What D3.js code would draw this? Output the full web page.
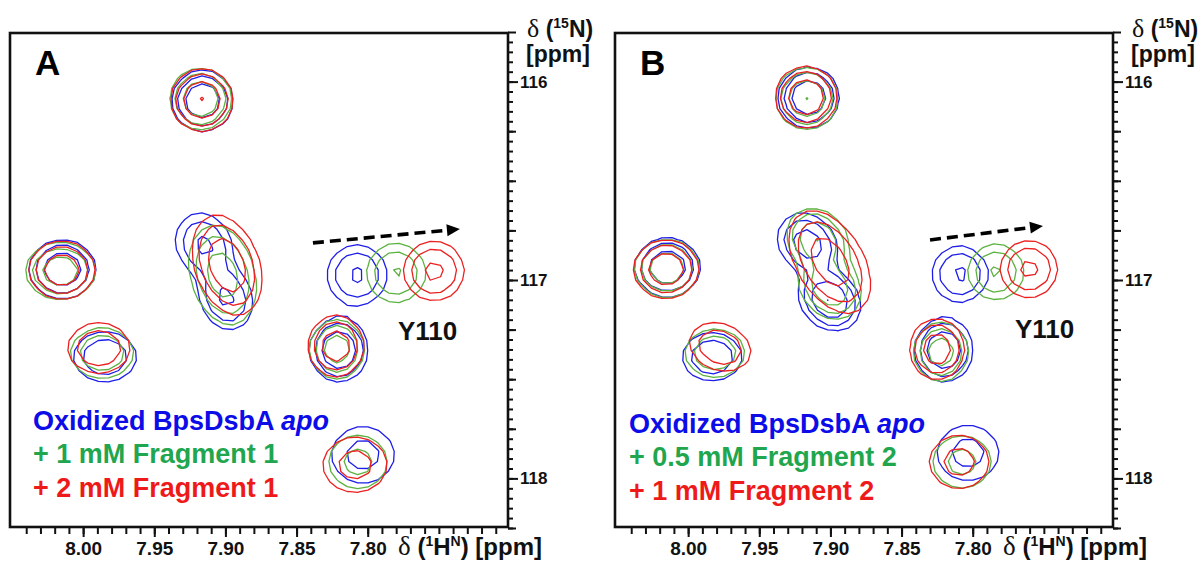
<!DOCTYPE html>
<html><head><meta charset="utf-8">
<script src="https://cdn.jsdelivr.net/npm/d3@7"></script>
<style>body{margin:0;background:#fff}svg{display:block}</style>
</head><body>
<svg id="chart" width="1203" height="566"></svg>
<script>
// ---------------- DATA ----------------
// Peak lists: [1H ppm, 15N ppm, width 1H (ppm), width 15N (ppm), relative intensity, tilt]
const A_blue = [
  [7.9160, 116.097, 0.0105, 0.0756, 7.5, 0],
  [8.0145, 116.945, 0.0114, 0.0727, 7.5, 0],
  [7.9150, 116.824, 0.0112, 0.0907, 4.6, 0.15],
  [7.8995, 117.091, 0.0105, 0.0907, 4.6, 0.15],
  [7.8075, 116.975, 0.0120, 0.0857, 4.5, 0],
  [7.9846, 117.388, 0.0132, 0.0757, 3.9, 0],
  [7.8202, 117.353, 0.0098, 0.0781, 8.1, 0],
  [7.8033, 117.882, 0.0158, 0.1025, 2.6, 0]
];
const A_green = [
  [7.9175, 116.088, 0.0105, 0.0756, 7.8, 0],
  [8.0160, 116.955, 0.0125, 0.0727, 6.5, 0],
  [7.9020, 116.975, 0.0125, 0.1330, 5.8, 0.25],
  [7.7801, 116.965, 0.0120, 0.0857, 4.3, 0],
  [7.9867, 117.368, 0.0132, 0.0757, 3.9, 0],
  [7.8216, 117.348, 0.0098, 0.0781, 6.0, 0],
  [7.8068, 117.917, 0.0150, 0.0980, 2.5, 0]
];
const A_red = [
  [7.9165, 116.093, 0.0105, 0.0756, 8.3, 0],
  [8.0149, 116.950, 0.0114, 0.0727, 7.0, 0],
  [7.8989, 116.925, 0.0122, 0.1270, 7.0, 0.3],
  [7.7534, 116.955, 0.0118, 0.0840, 4.75, 0],
  [7.9889, 117.343, 0.0132, 0.0757, 3.9, 0],
  [7.8223, 117.333, 0.0098, 0.0781, 6.5, 0],
  [7.8089, 117.932, 0.0162, 0.1000, 2.6, 0]
];
const B_blue = [
  [7.9151, 116.080, 0.0105, 0.0756, 7.5, 0],
  [8.0145, 116.935, 0.0112, 0.0730, 7.5, 0],
  [7.9160, 116.818, 0.0110, 0.0806, 6.0, 0.2],
  [7.9005, 117.101, 0.0105, 0.0756, 8.1, 0.2],
  [7.8089, 116.970, 0.0112, 0.0800, 4.5, 0],
  [7.9832, 117.388, 0.0125, 0.0720, 3.95, 0],
  [7.8202, 117.353, 0.0098, 0.0781, 8.1, 0],
  [7.8033, 117.872, 0.0155, 0.1000, 2.6, 0]
];
const B_green = [
  [7.9165, 116.085, 0.0105, 0.0756, 8.15, 0],
  [8.0149, 116.940, 0.0112, 0.0730, 7.0, 0],
  [7.9087, 116.800, 0.0105, 0.0780, 8.1, 0.2],
  [7.9003, 117.035, 0.0105, 0.0780, 8.1, 0.2],
  [7.7836, 116.960, 0.0112, 0.0800, 4.4, 0],
  [7.9811, 117.368, 0.0125, 0.0720, 3.95, 0],
  [7.8223, 117.363, 0.0098, 0.0781, 6.0, 0],
  [7.8075, 117.917, 0.0150, 0.0960, 2.5, 0]
];
const B_red = [
  [7.9172, 116.078, 0.0105, 0.0756, 7.8, 0],
  [8.0155, 116.945, 0.0112, 0.0730, 7.2, 0],
  [7.9003, 116.909, 0.0150, 0.1360, 6.0, 0.45],
  [7.7604, 116.945, 0.0112, 0.0800, 4.75, 0],
  [7.9776, 117.338, 0.0128, 0.0730, 3.95, 0.2],
  [7.8251, 117.348, 0.0098, 0.0781, 6.5, 0],
  [7.8096, 117.917, 0.0150, 0.0960, 2.6, 0]
];
const contourLevels = [1, 2, 4, 8];

const hDomain = [8.0514, 7.7014];
const nDomain = [115.755, 118.245];
const hLabelTicks = [8.00, 7.95, 7.90, 7.85, 7.80];
const hLabelText = ["8.00", "7.95", "7.90", "7.85", "7.80"];
const hMinorTicks = [8.04,8.03,8.02,8.01,8.00,7.99,7.98,7.97,7.96,7.95,7.94,7.93,7.92,7.91,7.90,7.89,7.88,7.87,7.86,7.85,7.84,7.83,7.82,7.81,7.80,7.79,7.78,7.77,7.76,7.75,7.74,7.73,7.72,7.71];
const nLabelTicks = [116, 117, 118];
const nLabelText = ["116", "117", "118"];
const nMidTicks = [115.75, 116.25, 116.5, 116.75, 117.25, 117.5, 117.75, 118.25];
const nMinorStep = 0.05;

const panelLetters = ["A", "B"];
const legendA = ["Oxidized BpsDsbA ", "+ 1 mM Fragment 1", "+ 2 mM Fragment 1"];
const legendB = ["Oxidized BpsDsbA ", "+ 0.5 mM Fragment 2", "+ 1 mM Fragment 2"];
const legendItalic = "apo";
const residueLabel = "Y110";
// arrow start/end [1H, 15N]
const arrowA = [[7.8385, 116.813], [7.7352, 116.743]];
const arrowB = [[7.8300, 116.798], [7.7506, 116.728]];
const labelPosA = [7.7787, 117.302];
const labelPosB = [7.7703, 117.292];

// ---------------- LAYOUT ----------------
const FONT = "'Liberation Sans', Arial, Helvetica, sans-serif";
const SERIF = "'Liberation Serif', 'Times New Roman', serif";
const PW = 498, PH = 494;
const colors = {blue: "#1e1ee8", green: "#5cb241", red: "#ec2020"};
const textColors = {blue: "#0c0ce8", green: "#1fa64e", red: "#ee1a1a"};

const panels = [
  {letter: panelLetters[0], left: 10, top: 33, series: [["blue", A_blue], ["green", A_green], ["red", A_red]],
   legend: legendA, legendX: 23, legendY: [397, 430, 464], arrow: arrowA, lab: labelPosA},
  {letter: panelLetters[1], left: 615, top: 33, series: [["blue", B_blue], ["green", B_green], ["red", B_red]],
   legend: legendB, legendX: 14, legendY: [400, 433, 467], arrow: arrowB, lab: labelPosB}
];

const svg = d3.select("#chart");
const x = d3.scaleLinear().domain(hDomain).range([0, PW]);
const y = d3.scaleLinear().domain(nDomain).range([0, PH]);

const NX = 48, NY = 49;
const gx = d3.scaleLinear().domain([0, NX]).range(hDomain);
const gy = d3.scaleLinear().domain([0, NY]).range(nDomain);

function spectrum(peaks) {
  const v = new Float64Array(NX * NY);
  for (let j = 0; j < NY; j++) {
    const yp = gy(j + 0.5);
    for (let i = 0; i < NX; i++) {
      const xp = gx(i + 0.5);
      let s = 0;
      for (const [h, n, sh, sn, a, r] of peaks) {
        const u = (h - xp) / sh, w = (yp - n) / sn;
        const q = (u * u - 2 * r * u * w + w * w) / (2 * (1 - r * r));
        if (q < 40) s += a * Math.exp(-q);
      }
      v[j * NX + i] = s;
    }
  }
  return v;
}

const proj = d3.geoTransform({
  point: function(px, py) { this.stream.point(x(gx(px)), y(gy(py))); }
});
const path = d3.geoPath(proj);

const nMinorTicks = d3.range(Math.round((nDomain[1] - 115.8) / nMinorStep) + 1).map(i => +(115.8 + i * nMinorStep).toFixed(2));

panels.forEach((p, pi) => {
  const g = svg.append("g").attr("transform", `translate(${p.left},${p.top})`);
  const clipId = "clip" + pi;
  g.append("clipPath").attr("id", clipId).append("rect").attr("width", PW).attr("height", PH);

  const cg = g.append("g").attr("clip-path", `url(#${clipId})`);
  p.series.forEach(([col, peaks]) => {
    const vals = spectrum(peaks);
    const cs = d3.contours().size([NX, NY]).thresholds(contourLevels)(vals);
    cg.append("g").selectAll("path").data(cs).join("path")
      .attr("d", path)
      .attr("fill", "none")
      .attr("stroke", colors[col])
      .attr("stroke-width", 1.3)
      .attr("stroke-linejoin", "round");
  });

  // frame
  g.append("rect").attr("width", PW).attr("height", PH)
    .attr("fill", "none").attr("stroke", "#111").attr("stroke-width", 2.6);

  // right axis
  const ra = g.append("g").attr("transform", `translate(${PW},0)`);
  ra.append("g").call(d3.axisRight(y).tickValues(nMinorTicks).tickSize(5).tickFormat(""));
  ra.append("g").call(d3.axisRight(y).tickValues(nMidTicks).tickSize(8).tickFormat(""));
  ra.append("g").call(d3.axisRight(y).tickValues(nLabelTicks).tickSize(10).tickPadding(2)
      .tickFormat((d, i) => nLabelText[i]));
  ra.selectAll(".domain").remove();
  ra.selectAll("line").attr("stroke", "#111").attr("stroke-width", 2);
  ra.selectAll("text").attr("font-family", FONT).attr("font-weight", "bold")
    .attr("font-size", 17).attr("fill", "#111");

  // bottom axis
  const ba = g.append("g").attr("transform", `translate(0,${PH})`);
  ba.append("g").call(d3.axisBottom(x).tickValues(hMinorTicks).tickSize(7).tickFormat(""));
  ba.append("g").call(d3.axisBottom(x).tickValues(hLabelTicks).tickSize(10).tickPadding(5)
      .tickFormat((d, i) => hLabelText[i]));
  ba.selectAll(".domain").remove();
  ba.selectAll("line").attr("stroke", "#111").attr("stroke-width", 2);
  ba.selectAll("text").attr("font-family", FONT).attr("font-weight", "bold")
    .attr("font-size", 19).attr("fill", "#111");

  // panel letter
  g.append("text").attr("x", 25).attr("y", 42).text(p.letter)
    .attr("font-family", FONT).attr("font-weight", "bold").attr("font-size", 35).attr("fill", "#000");

  // residue label
  g.append("text").attr("x", x(p.lab[0])).attr("y", y(p.lab[1])).text(residueLabel)
    .attr("font-family", FONT).attr("font-weight", "bold").attr("font-size", 26).attr("fill", "#111");

  // arrow
  const x1 = x(p.arrow[0][0]), y1 = y(p.arrow[0][1]), x2 = x(p.arrow[1][0]), y2 = y(p.arrow[1][1]);
  const ang = Math.atan2(y2 - y1, x2 - x1), hl = 13, hw = 6;
  const bx = x2 - hl * Math.cos(ang), by = y2 - hl * Math.sin(ang);
  g.append("line").attr("x1", x1).attr("y1", y1).attr("x2", bx).attr("y2", by)
    .attr("stroke", "#000").attr("stroke-width", 3.6).attr("stroke-dasharray", "11,6");
  g.append("path").attr("d", `M${x2},${y2}L${bx + hw * Math.sin(ang)},${by - hw * Math.cos(ang)}L${bx - hw * Math.sin(ang)},${by + hw * Math.cos(ang)}Z`)
    .attr("fill", "#000");

  // legend
  const cols = ["blue", "green", "red"];
  p.legend.forEach((t, i) => {
    const tx = g.append("text").attr("x", p.legendX).attr("y", p.legendY[i])
      .attr("font-family", FONT).attr("font-weight", "bold").attr("font-size", 27)
      .attr("fill", textColors[cols[i]]);
    tx.append("tspan").text(t);
    if (i === 0) tx.append("tspan").attr("font-style", "italic").text(legendItalic);
  });

  // axis titles
  const yt = g.append("text").attr("x", PW + 19).attr("y", 4)
    .attr("font-family", FONT).attr("font-weight", "bold").attr("font-size", 23).attr("fill", "#111");
  yt.append("tspan").attr("font-family", SERIF).attr("font-weight", "normal").attr("font-size", 26).text("δ");
  yt.append("tspan").text(" (");
  yt.append("tspan").attr("font-size", 14).attr("dy", -9).text("15");
  yt.append("tspan").attr("dy", 9).text("N)");
  g.append("text").attr("x", PW + 18).attr("y", 29).text("[ppm]")
    .attr("font-family", FONT).attr("font-weight", "bold").attr("font-size", 23).attr("fill", "#111");

  const xt = g.append("text").attr("x", 388).attr("y", PH + 28)
    .attr("font-family", FONT).attr("font-weight", "bold").attr("font-size", 24).attr("fill", "#111");
  xt.append("tspan").attr("font-family", SERIF).attr("font-weight", "normal").attr("font-size", 27).text("δ");
  xt.append("tspan").text(" (");
  xt.append("tspan").attr("font-size", 14).attr("dy", -9).text("1");
  xt.append("tspan").attr("dy", 9).text("H");
  xt.append("tspan").attr("font-size", 14).attr("dy", -9).text("N");
  xt.append("tspan").attr("dy", 9).text(") [ppm]");
});
</script>
</body></html>
